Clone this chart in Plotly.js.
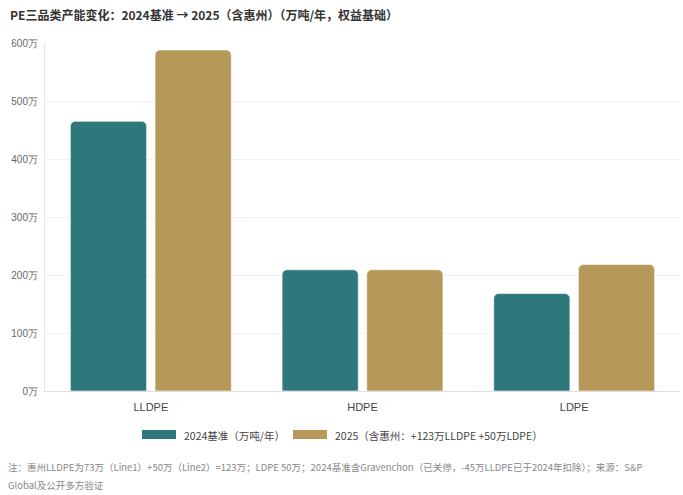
<!DOCTYPE html>
<html><head><meta charset="utf-8">
<script src="https://cdn.plot.ly/plotly-3.0.1.min.js"></script>
<style>html,body{margin:0;padding:0;background:#fff}#chart{width:683px;height:495px}</style>
</head><body><div id="chart"></div>
<script>
const categories = ["LLDPE", "HDPE", "LDPE"];
const seriesNames = ["2024基准（万吨/年）", "2025（含惠州：+123万LLDPE +50万LDPE）"];
const base2024 = [465, 209, 168];
const cap2025 = [588, 209, 218];
const yTicks = [0, 100, 200, 300, 400, 500, 600];
const yTickText = ["0万", "100万", "200万", "300万", "400万", "500万", "600万"];
const titleText = "PE三品类产能变化：2024基准 → 2025（含惠州）（万吨/年，权益基础）";
const noteLines = ["注：惠州LLDPE为73万（Line1）+50万（Line2）=123万；LDPE 50万；2024基准含Gravenchon（已关停，-45万LLDPE已于2024年扣除）；来源：S&P",
                   "Global及公开多方验证"];

const colors = ["#2e777b", "#b69858"];
const font = "Noto Sans CJK SC, Noto Sans, sans-serif";

const traces = [base2024, cap2025].map((vals, i) => ({
  type: "bar", x: categories, y: vals, name: seriesNames[i],
  marker: {color: colors[i], cornerradius: 5, line: {color: "rgba(255,255,255,0.6)", width: 1}},
  showlegend: false, hoverinfo: "x+y"
}));

const plotH = 495 - 43 - 104;
function py(pixY) { return (495 - 104 - pixY) / plotH; }
function px(pixX) { return (pixX - 45) / 635; }

const lx = [142, 293];
const shapes = lx.map((x, i) => ({
  type: "rect", xref: "paper", yref: "paper",
  x0: px(x), x1: px(x + 34), y0: py(439), y1: py(430),
  line: {width: 0}, fillcolor: colors[i]
}));

const annotations = [
  {text: "<b>" + titleText + "</b>", xref: "paper", yref: "paper", x: px(8), y: py(14),
   xanchor: "left", yanchor: "middle", showarrow: false, font: {family: font, size: 12, color: "#333"}},
  {text: seriesNames[0], xref: "paper", yref: "paper", x: px(182), y: py(435),
   xanchor: "left", yanchor: "middle", showarrow: false, font: {family: font, size: 10.5, color: "#444"}},
  {text: seriesNames[1], xref: "paper", yref: "paper", x: px(333), y: py(435),
   xanchor: "left", yanchor: "middle", showarrow: false, font: {family: font, size: 10.5, color: "#444"}}
];
noteLines.forEach((t, i) => annotations.push({
  text: t, xref: "paper", yref: "paper", x: px(6), y: py(467 + i * 18),
  xanchor: "left", yanchor: "middle", align: "left", showarrow: false,
  font: {family: font, size: 9.5, color: "#888"}
}));

const layout = {
  width: 683, height: 495,
  margin: {l: 45, r: 3, t: 43, b: 104},
  paper_bgcolor: "#fff", plot_bgcolor: "#fff",
  barmode: "group", bargap: 0.2, bargroupgap: 0.1,
  font: {family: font},
  xaxis: {showgrid: false, showline: true, linecolor: "#ddd", linewidth: 1, ticks: "",
          tickfont: {family: "Liberation Sans, Arial, sans-serif", size: 11, color: "#444"}, ticklabelstandoff: 6},
  yaxis: {range: [0, 600], tickvals: yTicks, ticktext: yTickText, showgrid: true, gridcolor: "#f2f2f2",
          showline: true, linecolor: "#e6e6e6", zeroline: false, ticks: "",
          tickfont: {family: "Liberation Sans, Arial, sans-serif", size: 10, color: "#666"}, ticklabelstandoff: 4},
  shapes: shapes, annotations: annotations, showlegend: false
};
Plotly.newPlot("chart", traces, layout, {displayModeBar: false, staticPlot: true});
</script></body></html>
